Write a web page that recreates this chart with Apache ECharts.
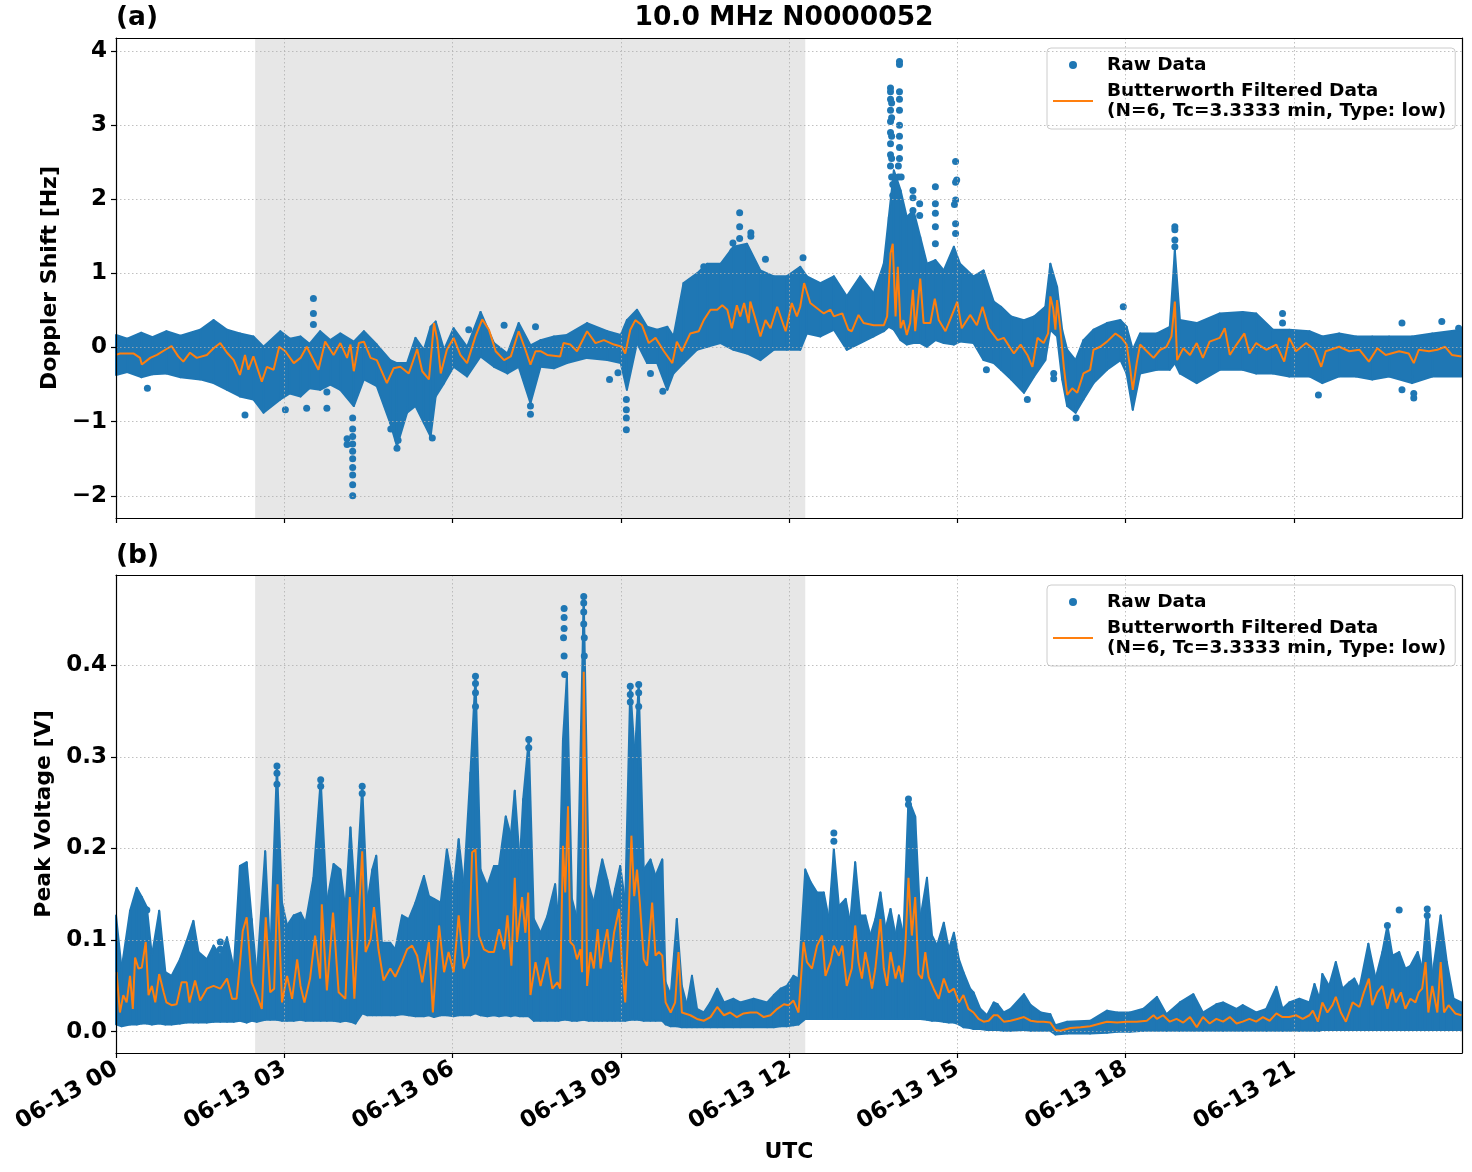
<!DOCTYPE html>
<html><head><meta charset="utf-8">
<script src="https://cdn.jsdelivr.net/npm/echarts@6/dist/echarts.min.js"></script>
<style>html,body{margin:0;padding:0;background:#fff}#c{width:1472px;height:1172px}</style>
</head><body><div id="c"></div><script>
// ---------- DATA (hours since 06-13 00 UTC) ----------
const xTickValues = [0, 3, 6, 9, 12, 15, 18, 21];
const xTickLabels = ['06-13 00','06-13 03','06-13 06','06-13 09','06-13 12','06-13 15','06-13 18','06-13 21'];
const dopplerTicks = [-2, -1, 0, 1, 2, 3, 4];
const voltageTicks = [0, 0.1, 0.2, 0.3, 0.4];
const shadedSpan = [2.48, 12.29];
const titleText = '10.0 MHz N0000052';
const rawName = 'Raw Data';
const filtName = 'Butterworth Filtered Data\n(N=6, Tc=3.3333 min, Type: low)';

// Doppler shift [Hz]: filtered curve [h, v]
const dopplerFiltered = [[0,-0.10],[0.07,-0.08],[0.31,-0.08],[0.43,-0.14],[0.46,-0.23],[0.61,-0.14],[0.73,-0.10],[0.90,-0.02],[0.99,0.02],[1.11,-0.12],[1.20,-0.19],[1.32,-0.07],[1.44,-0.14],[1.62,-0.10],[1.74,-0.01],[1.86,0.06],[1.98,-0.07],[2.10,-0.17],[2.21,-0.37],[2.30,-0.10],[2.36,-0.30],[2.45,-0.12],[2.60,-0.46],[2.69,-0.26],[2.81,-0.30],[2.91,0.01],[3.02,-0.05],[3.17,-0.21],[3.29,-0.14],[3.40,0.01],[3.61,-0.30],[3.73,0.08],[3.88,-0.10],[4.00,0.06],[4.12,-0.14],[4.18,0.04],[4.24,-0.32],[4.33,0.06],[4.42,0.08],[4.54,-0.14],[4.65,-0.17],[4.83,-0.48],[4.95,-0.28],[5.07,-0.26],[5.22,-0.35],[5.37,-0.02],[5.46,-0.32],[5.58,-0.43],[5.67,0.33],[5.73,0.10],[5.79,-0.35],[5.90,-0.03],[6.02,0.13],[6.14,-0.10],[6.26,-0.21],[6.41,0.15],[6.53,0.38],[6.65,0.24],[6.77,-0.05],[6.92,-0.17],[7.04,-0.12],[7.18,0.22],[7.30,-0.03],[7.39,-0.23],[7.48,-0.05],[7.57,-0.05],[7.69,-0.10],[7.92,-0.12],[7.98,0.06],[8.10,0.04],[8.22,-0.05],[8.40,0.22],[8.55,0.06],[8.70,0.10],[8.88,0.04],[9.02,0.01],[9.08,-0.08],[9.17,0.24],[9.26,0.37],[9.38,0.30],[9.50,0.06],[9.62,0.13],[9.77,-0.05],[9.92,-0.21],[10.00,0.08],[10.09,-0.05],[10.24,0.19],[10.39,0.22],[10.48,0.37],[10.60,0.51],[10.72,0.51],[10.81,0.57],[10.90,0.51],[10.98,0.26],[11.07,0.57],[11.13,0.42],[11.20,0.60],[11.28,0.33],[11.31,0.62],[11.40,0.39],[11.49,0.15],[11.58,0.37],[11.67,0.26],[11.79,0.55],[11.94,0.22],[12.05,0.60],[12.14,0.42],[12.20,0.55],[12.27,0.87],[12.38,0.60],[12.50,0.53],[12.62,0.46],[12.74,0.51],[12.80,0.42],[12.95,0.46],[13.06,0.24],[13.12,0.22],[13.24,0.44],[13.33,0.33],[13.51,0.30],[13.69,0.30],[13.75,0.42],[13.81,1.27],[13.85,1.40],[13.90,0.42],[13.94,1.09],[13.99,0.26],[14.04,0.37],[14.10,0.17],[14.16,0.33],[14.21,0.78],[14.25,0.22],[14.34,0.93],[14.40,0.33],[14.52,0.33],[14.60,0.66],[14.67,0.37],[14.79,0.22],[14.88,0.39],[15.00,0.62],[15.08,0.26],[15.23,0.44],[15.35,0.30],[15.45,0.55],[15.56,0.26],[15.72,0.10],[15.83,0.13],[16.01,-0.08],[16.13,0.04],[16.25,-0.10],[16.34,-0.26],[16.43,0.13],[16.54,0.06],[16.62,0.19],[16.66,0.69],[16.71,0.53],[16.75,0.24],[16.78,0.64],[16.84,0.24],[16.90,-0.26],[16.96,-0.64],[17.05,-0.55],[17.14,-0.61],[17.25,-0.35],[17.37,-0.30],[17.43,-0.03],[17.55,0.01],[17.67,0.08],[17.82,0.19],[17.93,0.13],[18.02,0.04],[18.08,-0.26],[18.13,-0.57],[18.20,-0.21],[18.26,0.04],[18.38,-0.05],[18.50,-0.14],[18.62,-0.03],[18.73,0.01],[18.82,0.15],[18.88,0.62],[18.92,-0.17],[19.03,-0.01],[19.15,-0.10],[19.27,0.06],[19.38,-0.14],[19.50,0.08],[19.68,0.13],[19.77,0.26],[19.86,-0.10],[19.98,0.04],[20.12,0.19],[20.21,-0.08],[20.33,0.06],[20.51,-0.03],[20.69,0.04],[20.83,-0.19],[20.92,0.13],[21.04,-0.05],[21.22,0.06],[21.37,-0.03],[21.49,-0.26],[21.57,-0.05],[21.81,0.01],[21.99,-0.05],[22.17,-0.03],[22.34,-0.19],[22.49,-0.01],[22.64,-0.10],[22.88,-0.05],[23.05,-0.08],[23.14,-0.21],[23.23,-0.03],[23.41,-0.05],[23.56,-0.03],[23.70,0.01],[23.82,-0.10],[23.99,-0.12]];

// Doppler raw-data dense envelope [h, low, high]
const dopplerBand = [[0,-0.37,0.17],[0.20,-0.33,0.12],[0.45,-0.40,0.20],[0.65,-0.36,0.14],[0.90,-0.35,0.22],[1.15,-0.40,0.16],[1.50,-0.43,0.24],[1.74,-0.48,0.37],[1.98,-0.57,0.24],[2.21,-0.66,0.19],[2.45,-0.70,0.15],[2.63,-0.88,0.01],[2.93,-0.70,0.22],[3.10,-0.62,0.12],[3.29,-0.66,0.15],[3.45,-0.55,0.05],[3.64,-0.57,0.22],[3.82,-0.50,0.10],[4.00,-0.57,0.19],[4.24,-0.79,0.08],[4.42,-0.43,0.22],[4.65,-0.52,0.04],[4.89,-1.02,-0.17],[5.01,-1.33,-0.21],[5.19,-0.88,-0.21],[5.34,-0.79,0.13],[5.49,-1.02,-0.03],[5.61,-1.20,0.28],[5.70,-0.66,0.35],[5.85,-0.48,-0.03],[6.02,-0.26,0.26],[6.26,-0.39,0.01],[6.50,-0.12,0.48],[6.74,-0.26,0.06],[6.98,-0.35,-0.08],[7.18,-0.26,0.33],[7.39,-0.75,0.03],[7.57,-0.26,0.10],[7.81,-0.28,0.15],[8.04,-0.21,0.17],[8.40,-0.14,0.33],[8.76,-0.17,0.22],[9.00,-0.21,0.17],[9.11,-0.57,0.37],[9.29,0.06,0.51],[9.47,-0.21,0.28],[9.65,-0.21,0.24],[9.83,-0.57,0.28],[9.94,-0.35,0.15],[10.12,-0.21,0.87],[10.36,-0.03,1.00],[10.54,0.01,1.13],[10.78,0.06,1.13],[11.01,-0.03,1.36],[11.25,-0.08,1.40],[11.49,-0.17,1.04],[11.73,-0.03,0.96],[11.96,-0.03,0.96],[12.20,-0.03,1.09],[12.32,0.19,0.96],[12.56,0.15,0.87],[12.80,0.24,0.96],[13.03,-0.03,0.69],[13.27,0.06,0.96],[13.51,0.15,0.73],[13.69,0.22,1.13],[13.78,0.28,1.76],[13.87,0.24,2.39],[13.99,0.10,2.12],[14.10,0.04,1.76],[14.22,0.06,1.85],[14.34,0.06,1.49],[14.46,0.01,1.13],[14.61,0.10,1.18],[14.76,0.06,1.04],[14.94,0.04,1.36],[15.05,0.08,1.13],[15.29,0.06,0.96],[15.47,-0.17,1.04],[15.65,-0.21,0.62],[15.78,-0.30,0.55],[15.96,-0.43,0.42],[16.19,-0.61,0.37],[16.37,-0.39,0.42],[16.57,-0.17,0.55],[16.66,0.24,1.13],[16.78,0.15,0.82],[16.87,-0.43,0.24],[16.96,-0.79,-0.03],[17.11,-0.88,-0.17],[17.25,-0.70,0.10],[17.43,-0.48,0.24],[17.67,-0.30,0.33],[17.91,-0.17,0.37],[18.02,-0.35,0.28],[18.13,-0.84,-0.03],[18.26,-0.35,0.19],[18.56,-0.30,0.19],[18.79,-0.30,0.28],[18.88,-0.21,1.31],[18.97,-0.35,0.37],[19.27,-0.48,0.33],[19.68,-0.30,0.46],[20.09,-0.30,0.48],[20.33,-0.35,0.46],[20.63,-0.35,0.24],[20.92,-0.39,0.24],[21.28,-0.39,0.22],[21.51,-0.48,0.15],[21.81,-0.39,0.19],[22.11,-0.39,0.15],[22.40,-0.43,0.15],[22.70,-0.39,0.15],[23.11,-0.48,0.15],[23.47,-0.39,0.19],[23.99,-0.39,0.24]];

// Doppler raw-data isolated points [h, v]
const dopplerOutliers = [[0.56,-0.55],[2.30,-0.91],[3.02,-0.84],[3.40,-0.82],[3.52,0.66],[3.52,0.46],[3.52,0.31],[3.76,-0.82],[3.76,-0.60],[4.12,-1.23],[4.12,-1.31],[4.22,-0.95],[4.22,-1.10],[4.22,-1.20],[4.22,-1.30],[4.22,-1.40],[4.22,-1.50],[4.22,-1.62],[4.22,-1.72],[4.22,-1.85],[4.22,-2.00],[4.90,-1.10],[5.01,-1.36],[5.03,-1.25],[5.64,-1.22],[6.29,0.24],[6.92,0.30],[7.39,-0.79],[7.39,-0.90],[7.48,0.28],[8.80,-0.43],[8.95,-0.34],[9.10,-0.70],[9.10,-0.84],[9.10,-0.95],[9.10,-1.11],[9.53,-0.35],[9.75,-0.59],[10.48,1.09],[11.00,1.41],[11.00,1.30],[11.12,1.82],[11.12,1.63],[11.12,1.47],[11.32,1.55],[11.32,1.50],[11.58,1.19],[12.25,1.21],[13.81,3.50],[13.81,3.45],[13.81,3.35],[13.81,3.20],[13.81,3.05],[13.81,2.90],[13.81,2.75],[13.81,2.60],[13.81,2.45],[13.83,3.30],[13.83,3.10],[13.83,2.85],[13.83,2.55],[13.83,2.30],[13.85,2.20],[13.85,2.05],[13.97,3.86],[13.97,3.82],[13.97,3.45],[13.97,3.35],[13.97,3.20],[13.97,3.00],[13.97,2.85],[13.97,2.70],[13.97,2.55],[13.95,2.45],[13.95,2.30],[14.00,2.30],[14.21,2.12],[14.21,2.02],[14.21,1.85],[14.21,1.63],[14.33,1.94],[14.33,1.78],[14.61,2.17],[14.61,1.94],[14.61,1.81],[14.61,1.63],[14.61,1.40],[14.97,2.51],[14.97,2.23],[14.99,2.26],[14.97,1.99],[14.95,1.93],[14.97,1.67],[14.97,1.54],[15.52,-0.30],[16.25,-0.70],[16.72,-0.35],[16.72,-0.42],[17.12,-0.95],[17.96,0.55],[18.88,1.63],[18.88,1.59],[18.88,1.45],[18.88,1.36],[20.80,0.46],[20.80,0.33],[21.44,-0.64],[22.93,0.33],[22.93,-0.57],[23.14,-0.68],[23.14,-0.62],[23.64,0.35],[23.94,0.26]];

// Peak voltage [V]: filtered curve [h, v]
const voltageFiltered = [[0.01,0.065],[0.07,0.021],[0.13,0.040],[0.19,0.032],[0.25,0.061],[0.30,0.025],[0.34,0.081],[0.40,0.069],[0.46,0.070],[0.53,0.098],[0.58,0.040],[0.64,0.050],[0.70,0.032],[0.77,0.063],[0.85,0.043],[0.90,0.032],[0.99,0.029],[1.08,0.030],[1.17,0.054],[1.26,0.054],[1.31,0.032],[1.41,0.056],[1.50,0.034],[1.62,0.047],[1.74,0.050],[1.86,0.047],[1.98,0.058],[2.07,0.036],[2.15,0.036],[2.21,0.074],[2.26,0.110],[2.33,0.125],[2.42,0.054],[2.51,0.040],[2.60,0.025],[2.67,0.125],[2.75,0.043],[2.82,0.047],[2.88,0.161],[2.96,0.032],[3.05,0.061],[3.14,0.036],[3.23,0.079],[3.29,0.050],[3.36,0.032],[3.46,0.058],[3.55,0.105],[3.64,0.058],[3.67,0.139],[3.76,0.045],[3.87,0.130],[3.97,0.043],[4.09,0.036],[4.17,0.147],[4.25,0.036],[4.39,0.197],[4.45,0.087],[4.54,0.101],[4.60,0.136],[4.68,0.090],[4.77,0.056],[4.89,0.069],[4.98,0.060],[5.10,0.076],[5.19,0.090],[5.28,0.094],[5.37,0.083],[5.46,0.054],[5.58,0.098],[5.65,0.021],[5.76,0.116],[5.85,0.065],[5.93,0.087],[6.02,0.065],[6.11,0.127],[6.20,0.069],[6.29,0.083],[6.35,0.196],[6.41,0.199],[6.47,0.105],[6.56,0.090],[6.65,0.087],[6.74,0.087],[6.83,0.112],[6.92,0.090],[6.98,0.127],[7.05,0.072],[7.11,0.168],[7.15,0.098],[7.24,0.147],[7.30,0.108],[7.35,0.152],[7.39,0.040],[7.48,0.076],[7.57,0.050],[7.69,0.081],[7.78,0.047],[7.87,0.054],[7.92,0.047],[7.97,0.203],[8.01,0.152],[8.06,0.246],[8.10,0.098],[8.16,0.094],[8.22,0.079],[8.28,0.090],[8.31,0.065],[8.34,0.393],[8.37,0.250],[8.40,0.050],[8.46,0.087],[8.52,0.069],[8.59,0.112],[8.64,0.069],[8.70,0.094],[8.76,0.112],[8.82,0.076],[8.88,0.108],[8.97,0.134],[9.02,0.076],[9.08,0.032],[9.14,0.123],[9.19,0.214],[9.24,0.148],[9.29,0.177],[9.34,0.141],[9.41,0.079],[9.47,0.072],[9.56,0.141],[9.62,0.083],[9.68,0.087],[9.74,0.083],[9.80,0.032],[9.89,0.021],[9.97,0.032],[10.03,0.087],[10.09,0.021],[10.24,0.018],[10.36,0.014],[10.48,0.012],[10.60,0.016],[10.72,0.027],[10.84,0.018],[10.95,0.021],[11.07,0.016],[11.19,0.020],[11.31,0.021],[11.43,0.021],[11.55,0.016],[11.67,0.018],[11.79,0.025],[11.91,0.030],[11.99,0.029],[12.08,0.034],[12.17,0.021],[12.26,0.098],[12.32,0.076],[12.41,0.069],[12.50,0.094],[12.59,0.105],[12.65,0.061],[12.74,0.076],[12.80,0.094],[12.89,0.083],[12.95,0.094],[13.03,0.050],[13.12,0.069],[13.18,0.116],[13.24,0.076],[13.30,0.058],[13.36,0.087],[13.42,0.069],[13.48,0.047],[13.54,0.069],[13.63,0.123],[13.69,0.069],[13.75,0.050],[13.81,0.087],[13.90,0.058],[13.96,0.072],[14.02,0.054],[14.07,0.087],[14.13,0.168],[14.19,0.105],[14.25,0.147],[14.31,0.063],[14.37,0.058],[14.43,0.087],[14.49,0.060],[14.58,0.047],[14.67,0.036],[14.76,0.058],[14.85,0.043],[14.94,0.047],[15.03,0.032],[15.11,0.040],[15.20,0.025],[15.29,0.021],[15.38,0.014],[15.47,0.011],[15.56,0.012],[15.65,0.018],[15.72,0.018],[15.83,0.011],[15.95,0.012],[16.07,0.014],[16.19,0.016],[16.31,0.012],[16.43,0.011],[16.54,0.011],[16.66,0.010],[16.75,0.002],[16.84,0.001],[17.02,0.004],[17.20,0.005],[17.37,0.006],[17.55,0.009],[17.67,0.011],[17.85,0.010],[18.02,0.011],[18.20,0.011],[18.38,0.012],[18.50,0.018],[18.56,0.014],[18.67,0.018],[18.79,0.011],[18.91,0.014],[19.03,0.010],[19.15,0.016],[19.27,0.005],[19.38,0.016],[19.50,0.009],[19.62,0.014],[19.74,0.011],[19.86,0.016],[19.98,0.009],[20.09,0.011],[20.21,0.014],[20.33,0.011],[20.45,0.016],[20.57,0.012],[20.69,0.020],[20.80,0.016],[20.92,0.016],[21.04,0.018],[21.16,0.014],[21.28,0.018],[21.34,0.023],[21.43,0.011],[21.51,0.032],[21.60,0.021],[21.69,0.029],[21.75,0.038],[21.84,0.021],[21.93,0.011],[22.05,0.032],[22.17,0.027],[22.25,0.043],[22.34,0.058],[22.40,0.029],[22.49,0.043],[22.58,0.050],[22.67,0.025],[22.76,0.047],[22.82,0.032],[22.91,0.043],[22.99,0.025],[23.08,0.036],[23.17,0.032],[23.23,0.043],[23.29,0.047],[23.35,0.076],[23.40,0.021],[23.47,0.050],[23.56,0.021],[23.62,0.076],[23.68,0.021],[23.76,0.029],[23.88,0.020],[23.99,0.018]];

// Peak voltage raw-data dense envelope [h, low, high]
const voltageBand = [[0,0.008,0.127],[0.10,0.006,0.069],[0.25,0.008,0.132],[0.37,0.008,0.157],[0.46,0.009,0.147],[0.55,0.009,0.136],[0.64,0.008,0.083],[0.77,0.009,0.132],[0.88,0.008,0.065],[0.99,0.008,0.061],[1.14,0.009,0.079],[1.26,0.010,0.099],[1.38,0.010,0.121],[1.47,0.010,0.087],[1.62,0.010,0.079],[1.74,0.011,0.094],[1.86,0.011,0.083],[1.98,0.011,0.103],[2.10,0.011,0.069],[2.21,0.012,0.181],[2.33,0.010,0.185],[2.42,0.012,0.123],[2.51,0.011,0.061],[2.66,0.013,0.197],[2.75,0.013,0.083],[2.87,0.013,0.290],[2.96,0.012,0.141],[3.05,0.012,0.116],[3.17,0.012,0.127],[3.29,0.013,0.130],[3.38,0.012,0.119],[3.52,0.012,0.168],[3.65,0.012,0.275],[3.76,0.012,0.141],[3.88,0.012,0.183],[4.00,0.011,0.177],[4.09,0.012,0.134],[4.18,0.011,0.223],[4.27,0.009,0.138],[4.39,0.020,0.268],[4.48,0.018,0.141],[4.57,0.018,0.177],[4.64,0.018,0.192],[4.74,0.018,0.097],[4.89,0.018,0.097],[4.98,0.018,0.090],[5.10,0.019,0.127],[5.22,0.018,0.123],[5.34,0.017,0.141],[5.49,0.017,0.170],[5.58,0.018,0.148],[5.67,0.016,0.145],[5.79,0.018,0.141],[5.90,0.018,0.199],[6.02,0.017,0.156],[6.11,0.018,0.210],[6.20,0.018,0.159],[6.32,0.018,0.283],[6.41,0.020,0.388],[6.50,0.018,0.177],[6.62,0.017,0.159],[6.74,0.018,0.181],[6.83,0.017,0.181],[6.95,0.018,0.235],[7.04,0.017,0.214],[7.11,0.018,0.263],[7.20,0.017,0.185],[7.26,0.017,0.254],[7.36,0.017,0.319],[7.45,0.012,0.123],[7.57,0.012,0.108],[7.69,0.012,0.126],[7.83,0.012,0.161],[7.89,0.012,0.119],[7.97,0.013,0.319],[8.04,0.013,0.388],[8.13,0.012,0.145],[8.22,0.012,0.123],[8.34,0.013,0.475],[8.43,0.012,0.159],[8.52,0.012,0.141],[8.61,0.012,0.170],[8.67,0.012,0.188],[8.76,0.012,0.166],[8.85,0.012,0.141],[8.90,0.012,0.156],[8.99,0.012,0.181],[9.08,0.012,0.141],[9.17,0.013,0.377],[9.25,0.013,0.300],[9.32,0.013,0.379],[9.41,0.012,0.177],[9.53,0.012,0.188],[9.62,0.012,0.170],[9.74,0.012,0.188],[9.80,0.008,0.054],[9.89,0.006,0.040],[10.00,0.006,0.123],[10.09,0.005,0.050],[10.18,0.005,0.029],[10.27,0.005,0.061],[10.36,0.005,0.025],[10.48,0.005,0.021],[10.60,0.005,0.032],[10.72,0.005,0.047],[10.84,0.005,0.032],[11.01,0.005,0.036],[11.13,0.005,0.032],[11.37,0.005,0.036],[11.61,0.005,0.032],[11.73,0.005,0.040],[11.85,0.006,0.047],[11.96,0.006,0.050],[12.08,0.007,0.061],[12.17,0.008,0.058],[12.29,0.014,0.177],[12.38,0.014,0.164],[12.50,0.014,0.152],[12.62,0.014,0.152],[12.71,0.014,0.123],[12.80,0.014,0.199],[12.89,0.014,0.137],[13.01,0.014,0.145],[13.09,0.014,0.119],[13.18,0.014,0.185],[13.27,0.014,0.127],[13.36,0.014,0.127],[13.45,0.014,0.105],[13.54,0.014,0.123],[13.63,0.014,0.152],[13.72,0.014,0.112],[13.81,0.014,0.134],[13.90,0.014,0.105],[13.96,0.014,0.127],[14.04,0.014,0.105],[14.13,0.014,0.254],[14.25,0.014,0.235],[14.34,0.014,0.123],[14.46,0.013,0.168],[14.55,0.012,0.105],[14.64,0.012,0.094],[14.76,0.011,0.119],[14.85,0.010,0.090],[14.94,0.010,0.108],[15.03,0.008,0.079],[15.11,0.005,0.065],[15.23,0.004,0.047],[15.29,0.003,0.043],[15.41,0.003,0.025],[15.53,0.002,0.018],[15.65,0.002,0.032],[15.72,0.002,0.030],[15.83,0.001,0.021],[15.95,0.001,0.025],[16.19,0.002,0.041],[16.31,0.001,0.029],[16.49,0.001,0.021],[16.66,0.001,0.019],[16.75,-0.003,0.007],[16.96,-0.002,0.011],[17.37,-0.002,0.012],[17.67,-0.001,0.023],[17.85,0.000,0.021],[18.08,0.000,0.021],[18.32,0.001,0.025],[18.56,0.001,0.038],[18.73,0.001,0.019],[18.97,0.001,0.032],[19.21,0.001,0.041],[19.38,0.001,0.021],[19.62,0.001,0.030],[19.74,0.001,0.032],[19.98,0.001,0.025],[20.09,0.001,0.029],[20.33,0.001,0.021],[20.51,0.001,0.025],[20.69,0.001,0.049],[20.80,0.001,0.025],[20.92,0.001,0.032],[21.10,0.001,0.036],[21.28,0.001,0.032],[21.37,0.001,0.052],[21.46,0.001,0.036],[21.51,0.002,0.063],[21.63,0.002,0.050],[21.75,0.002,0.076],[21.87,0.002,0.047],[21.99,0.002,0.054],[22.08,0.002,0.058],[22.17,0.002,0.047],[22.33,0.002,0.096],[22.46,0.002,0.058],[22.58,0.002,0.087],[22.67,0.002,0.116],[22.76,0.002,0.083],[22.88,0.002,0.087],[22.99,0.002,0.069],[23.08,0.002,0.072],[23.21,0.002,0.087],[23.29,0.002,0.069],[23.38,0.002,0.134],[23.47,0.002,0.061],[23.62,0.002,0.127],[23.73,0.002,0.076],[23.85,0.002,0.036],[23.99,0.002,0.032]];

// Peak voltage raw-data isolated points [h, v]
const voltageOutliers = [[7.99,0.462],[7.99,0.452],[7.99,0.440],[7.98,0.430],[7.99,0.410],[8.00,0.390],[8.34,0.475],[8.34,0.468],[8.34,0.458],[8.34,0.445],[8.35,0.430],[8.35,0.410],[9.17,0.377],[9.17,0.368],[9.17,0.360],[9.32,0.379],[9.32,0.370],[9.32,0.355],[6.41,0.388],[6.41,0.380],[6.41,0.370],[6.41,0.355],[2.87,0.290],[2.87,0.282],[2.87,0.270],[7.36,0.319],[7.36,0.310],[3.65,0.275],[3.65,0.268],[4.39,0.268],[4.39,0.260],[14.13,0.254],[14.13,0.248],[12.80,0.217],[12.80,0.208],[1.86,0.098],[1.86,0.090],[0.55,0.133],[22.88,0.133],[23.38,0.134],[23.38,0.127],[22.67,0.116]];

// ---------- CHART ----------
const BLUE = '#1f77b4', ORANGE = '#ff7f0e';
const FONT = 'DejaVu Sans';
const chart = echarts.init(document.getElementById('c'), null, {renderer: 'canvas'});

function bandSeries(band, idx) {
  const segs = [];
  for (let i = 0; i < band.length - 1; i++) {
    const a = band[i], b = band[i + 1];
    segs.push([a[0], b[0], Math.min(a[1], b[1]), Math.max(a[2], b[2])]);
  }
  return {
    type: 'custom', name: rawName, xAxisIndex: idx, yAxisIndex: idx, z: 2,
    itemStyle: {color: BLUE}, silent: true,
    encode: {x: [0, 1], y: [2, 3]},
    data: segs,
    renderItem(params, api) {
      const a = band[params.dataIndex], b = band[params.dataIndex + 1];
      const pts = [api.coord([a[0], a[2]]), api.coord([b[0], b[2]]), api.coord([b[0], b[1]]), api.coord([a[0], a[1]])];
      return {type: 'polygon', shape: {points: pts},
        style: {fill: BLUE, stroke: BLUE, lineWidth: 2, lineJoin: 'round'}};
    }
  };
}
function scatterSeries(pts, idx) {
  return {type: 'scatter', name: rawName, xAxisIndex: idx, yAxisIndex: idx, z: 1,
    symbolSize: 7, itemStyle: {color: BLUE, opacity: 1}, data: pts, silent: true,
    markArea: {silent: true, itemStyle: {color: 'rgba(0,0,0,0.095)'},
      data: [[{xAxis: shadedSpan[0]}, {xAxis: shadedSpan[1]}]]}};
}
function lineSeries(pts, idx) {
  return {type: 'line', name: filtName, xAxisIndex: idx, yAxisIndex: idx, z: 3,
    symbol: 'none', showSymbol: false, data: pts, silent: true,
    lineStyle: {color: ORANGE, width: 2}, itemStyle: {color: ORANGE}};
}
const grids = [
  {left: 116, top: 38, width: 1346, height: 480},
  {left: 116, top: 575, width: 1346, height: 478}
];
const tickFont = {fontFamily: FONT, fontWeight: 'bold', fontSize: 23, color: '#000'};
const nameFont = {fontFamily: FONT, fontWeight: 'bold', fontSize: 22, color: '#000'};
const gridLine = {show: true, lineStyle: {color: '#b0b0b0', width: 0.8, type: [1.5, 2.5]}};
function xAxisMain(idx, showLabels) {
  return {type: 'value', gridIndex: idx, min: 0, max: 24, z: 5,
    axisLine: {show: true, onZero: false, lineStyle: {color: '#000', width: 1.2}},
    axisTick: {show: true, inside: false, length: 5, customValues: xTickValues, lineStyle: {color: '#000', width: 1.2}},
    axisLabel: {show: showLabels, customValues: xTickValues, rotate: 30, margin: 14, ...tickFont,
      formatter: v => xTickLabels[xTickValues.indexOf(Math.round(v))] || ''},
    splitLine: gridLine,
    name: showLabels ? 'UTC' : '', nameLocation: 'middle', nameGap: 88, nameTextStyle: nameFont};
}
function xAxisFrame(idx) {
  return {type: 'value', gridIndex: idx, min: 0, max: 24, position: 'top', z: 5,
    axisLine: {show: true, onZero: false, lineStyle: {color: '#000', width: 1.2}},
    axisTick: {show: false}, axisLabel: {show: false}, splitLine: {show: false}};
}
function yAxisMain(idx, min, max, ticks, fmt, name, gap) {
  return {type: 'value', gridIndex: idx, min, max, z: 5,
    axisLine: {show: true, onZero: false, lineStyle: {color: '#000', width: 1.2}},
    axisTick: {show: true, length: 5, customValues: ticks, lineStyle: {color: '#000', width: 1.2}},
    axisLabel: {customValues: ticks, margin: 9, ...tickFont, formatter: fmt},
    splitLine: gridLine,
    name, nameLocation: 'middle', nameGap: gap, nameRotate: 90, nameTextStyle: nameFont};
}
function yAxisFrame(idx, min, max) {
  return {type: 'value', gridIndex: idx, min, max, position: 'right', z: 5,
    axisLine: {show: true, onZero: false, lineStyle: {color: '#000', width: 1.2}},
    axisTick: {show: false}, axisLabel: {show: false}, splitLine: {show: false}};
}
function legendAt(top) {
  return {orient: 'vertical', left: 1047, top, padding: [7, 9, 8, 6], itemGap: 6,
    itemWidth: 40, itemHeight: 8, selectedMode: false,
    backgroundColor: 'rgba(255,255,255,0.8)', borderColor: '#cccccc', borderWidth: 1, borderRadius: 4,
    textStyle: {fontFamily: FONT, fontWeight: 'bold', fontSize: 18.5, color: '#000', lineHeight: 20, padding: [0, 0, 0, 9]},
    data: [{name: rawName, icon: 'circle'},
           {name: filtName, icon: 'path://M0,0L40,0L40,2L0,2Z', itemStyle: {color: ORANGE}}]};
}
const dopFmt = v => (v < 0 ? '\u2212' : '') + Math.abs(v);
const voltFmt = v => v.toFixed(1);
const titleFont = {fontFamily: FONT, fontWeight: 'bold', fontSize: 26.5, color: '#000'};

chart.setOption({
  animation: false,
  backgroundColor: '#fff',
  title: [
    {text: titleText, left: 784, top: 5, textAlign: 'center', padding: 0, textStyle: titleFont},
    {text: '(a)', left: 116, top: 5, padding: 0, textStyle: titleFont},
    {text: '(b)', left: 116, top: 543, padding: 0, textStyle: titleFont}
  ],
  legend: [legendAt(48), legendAt(585)],
  grid: grids,
  xAxis: [xAxisMain(0, false), xAxisMain(1, true), xAxisFrame(0), xAxisFrame(1)],
  yAxis: [
    yAxisMain(0, -2.30, 4.176, dopplerTicks, dopFmt, 'Doppler Shift [Hz]', 50),
    yAxisMain(1, -0.0232, 0.4985, voltageTicks, voltFmt, 'Peak Voltage [V]', 57),
    yAxisFrame(0, -2.30, 4.176), yAxisFrame(1, -0.0232, 0.4985)
  ],
  series: [
    scatterSeries(dopplerOutliers, 0), bandSeries(dopplerBand, 0), lineSeries(dopplerFiltered, 0),
    scatterSeries(voltageOutliers, 1), bandSeries(voltageBand, 1), lineSeries(voltageFiltered, 1)
  ]
});
</script></body></html>
